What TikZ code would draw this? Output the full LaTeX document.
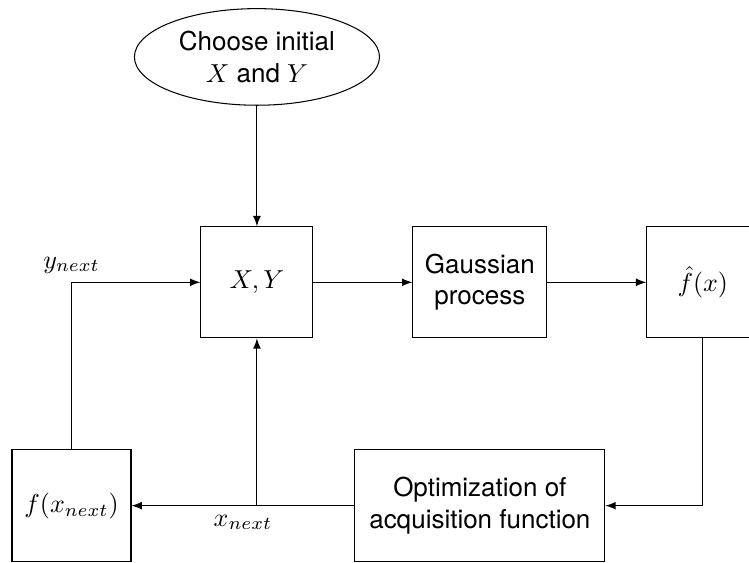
\documentclass[tikz,border=0pt]{standalone}
\usepackage{fontspec}
\setmainfont{TeX Gyre Heros}
\usetikzlibrary{shapes.geometric}
\begin{document}
\begin{tikzpicture}[box/.style={draw, inner sep=2pt, minimum height=1.5cm, align=center}]
\useasboundingbox (0,0) rectangle (10.13,7.61);
\path (3.475,6.84) node[draw, ellipse, align=center] (init) {Choose initial\\$X$ and $Y$};
\path (3.475,3.792) node[box, minimum width=1.514cm] (xy) {$X,Y$};
\path (6.49,3.792) node[box, minimum width=1.81cm] (gp) {Gaussian\\process};
\path (9.505,3.792) node[box, minimum width=1.514cm] (fhat) {$\hat{f}(x)$};
\path (0.967,0.771) node[box, minimum width=1.609cm, minimum height=1.514cm] (fnext) {$f(x_{next})$};
\path (6.49,0.771) node[box, minimum width=3.38cm, minimum height=1.514cm] (opt) {Optimization of\\acquisition function};
\coordinate (split) at (xy |- opt);
\draw [-latex] (init) -- (xy);
\draw [-latex] (xy) -- (gp);
\draw [-latex] (gp) -- (fhat);
\draw [-latex] (fhat) |- (opt);
\draw [-latex] (opt) -- node[below] {$x_{next}$} (fnext);
\draw [-latex] (split) -- (xy);
\draw [-latex] (fnext) |- node[above] {$y_{next}$} (xy);
\end{tikzpicture}
\end{document}
